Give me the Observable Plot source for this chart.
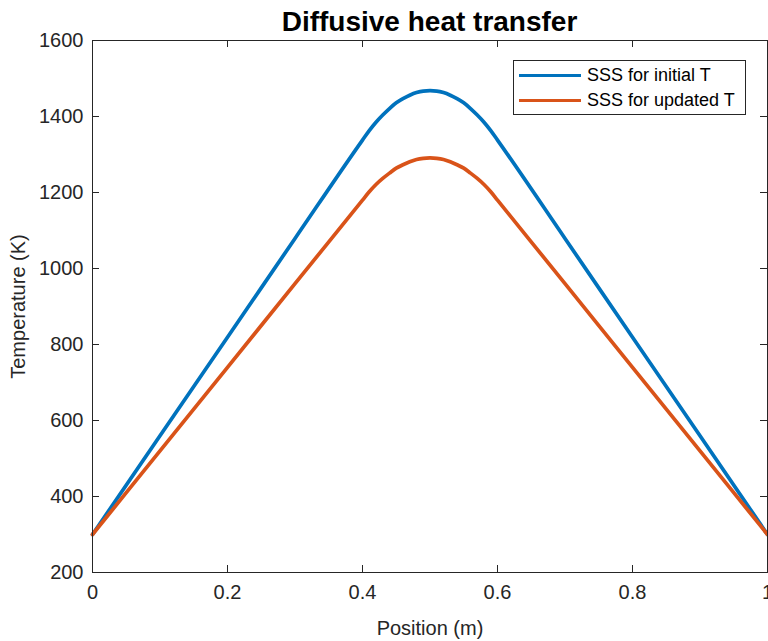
<!DOCTYPE html>
<html>
<head>
<meta charset="utf-8">
<script src="https://cdn.jsdelivr.net/npm/d3@7"></script>
<script src="https://cdn.jsdelivr.net/npm/@observablehq/plot@0.6"></script>
<style>
  body { margin: 0; background: #fff; font-family: "Liberation Sans", Arial, Helvetica, sans-serif; }
  #wrap { position: relative; width: 768px; height: 641px; overflow: hidden; }
  #title { position: relative; top: 8px; z-index: 2; height: 28px; line-height: 28px; font-size: 28px; font-weight: bold;
           color: #000; padding-left: 92px; width: 675px; text-align: center; white-space: nowrap; }
  #legend { position: absolute; left: 513px; top: 60px; width: 231px; height: 53px; border: 1px solid #262626;
            background: #fff; z-index: 3; }
  .row { position: absolute; left: 5px; height: 20px; display: flex; align-items: center; font-size: 18px; color: #000; white-space: nowrap; }
  .sw { width: 62px; height: 0; border-top: 3.5px solid; margin-right: 6px; }
</style>
</head>
<body>
<div id="wrap">
  <div id="title">Diffusive heat transfer</div>
  <div id="chart"></div>
  <div id="legend"></div>
</div>
<script>
// Data
const position = [0, 0.1, 0.2, 0.3, 0.4, 0.41, 0.42, 0.43, 0.44, 0.45, 0.46, 0.47, 0.48, 0.49, 0.5,
                  0.51, 0.52, 0.53, 0.54, 0.55, 0.56, 0.57, 0.58, 0.59, 0.6, 0.7, 0.8, 0.9, 1.0];
const tempInitial = [300, 560, 819, 1079, 1338, 1363, 1385, 1404, 1421, 1436, 1447, 1456, 1463, 1467, 1468,
                     1467, 1463, 1456, 1447, 1436, 1421, 1404, 1385, 1363, 1338, 1079, 819, 560, 300];
const tempUpdated = [300, 520, 740, 960, 1180, 1202, 1221, 1237, 1251, 1264, 1273, 1281, 1287, 1290, 1291,
                     1290, 1287, 1281, 1273, 1264, 1251, 1237, 1221, 1202, 1180, 960, 740, 520, 300];
const seriesNames = ["SSS for initial T", "SSS for updated T"];
const seriesColors = ["#0072BD", "#D95319"];
const xTicks = [0, 0.2, 0.4, 0.6, 0.8, 1];
const yTicks = [200, 400, 600, 800, 1000, 1200, 1400, 1600];

const rows = [];
position.forEach((x, i) => rows.push({x, t: tempInitial[i], s: seriesNames[0]}));
position.forEach((x, i) => rows.push({x, t: tempUpdated[i], s: seriesNames[1]}));

const axisColor = "#262626";
const W = 768, H = 613, mT = 12, mB = 69, mL = 92, mR = 1;
const tickLen = 7;
const innerW = W - mL - mR, innerH = H - mT - mB;

const chart = Plot.plot({
  width: W,
  height: H,
  marginTop: mT,
  marginBottom: mB,
  marginLeft: mL,
  marginRight: mR,
  style: { fontFamily: '"Liberation Sans", Arial, Helvetica, sans-serif', background: "#fff", overflow: "visible" },
  x: { domain: [0, 1] },
  y: { domain: [200, 1600] },
  color: { domain: seriesNames, range: seriesColors },
  marks: [
    Plot.line(rows, { x: "x", y: "t", stroke: "s", z: "s", strokeWidth: 3.7, curve: "monotone-x" }),
    // inward tick marks on all four sides (MATLAB box style)
    Plot.tickX(xTicks, { x: d => d, insetTop: innerH - tickLen, stroke: axisColor }),
    Plot.tickX(xTicks, { x: d => d, insetBottom: innerH - tickLen, stroke: axisColor }),
    Plot.tickY(yTicks, { y: d => d, insetRight: innerW - tickLen, stroke: axisColor }),
    Plot.tickY(yTicks, { y: d => d, insetLeft: innerW - tickLen, stroke: axisColor }),
    Plot.frame({ stroke: axisColor, strokeWidth: 1 }),
    Plot.axisX(xTicks, { anchor: "bottom", tickSize: 0, tickPadding: 12, tickFormat: d => String(d), fontSize: 20,
      color: axisColor, label: "Position (m)", labelAnchor: "center", labelOffset: 62, labelArrow: "none" }),
    Plot.axisY(yTicks, { anchor: "left", tickSize: 0, tickPadding: 9, tickFormat: d => String(d), fontSize: 20, color: axisColor,
      label: "Temperature (K)", labelAnchor: "center", labelOffset: 82, labelArrow: "none" })
  ]
});
document.getElementById("chart").appendChild(chart);

const legend = document.getElementById("legend");
seriesNames.forEach((name, i) => {
  const r = document.createElement("div");
  r.className = "row";
  r.style.top = (4 + i * 25) + "px";
  const sw = document.createElement("span");
  sw.className = "sw";
  sw.style.borderTopColor = seriesColors[i];
  const tx = document.createElement("span");
  tx.textContent = name;
  r.appendChild(sw); r.appendChild(tx);
  legend.appendChild(r);
});
</script>
</body>
</html>
